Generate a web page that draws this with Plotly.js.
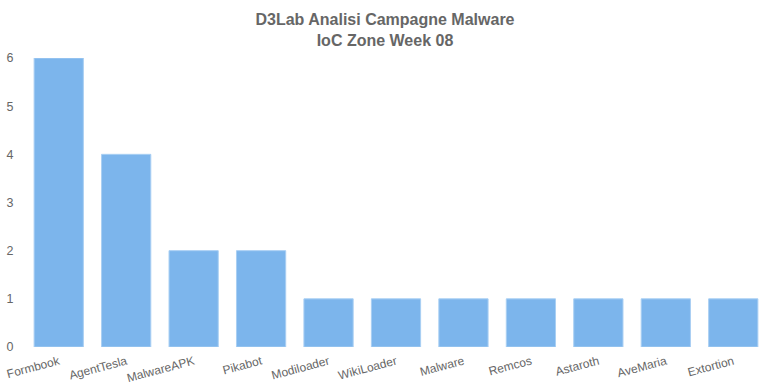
<!DOCTYPE html>
<html><head><meta charset="utf-8">
<script src="https://cdn.plot.ly/plotly-3.0.1.min.js"></script>
<style>html,body{margin:0;padding:0;background:#fff}#chart{width:770px;height:385px}</style>
</head><body><div id="chart"></div>
<script>
const categories = ["Formbook","AgentTesla","MalwareAPK","Pikabot","Modiloader","WikiLoader","Malware","Remcos","Astaroth","AveMaria","Extortion"];
const counts = [6,4,2,2,1,1,1,1,1,1,1];
const yTicks = [0,1,2,3,4,5,6];

Plotly.newPlot('chart', [{
  type: 'bar',
  x: categories,
  y: counts,
  marker: {color: '#7cb5ec', line: {color: '#a9cff3', width: 1}},
  hoverinfo: 'x+y'
}], {
  width: 770, height: 385,
  margin: {l: 25, r: 3, t: 58, b: 38},
  title: {text: '<b>D3Lab Analisi Campagne Malware<br>IoC Zone Week 08</b>', x: 0.5, xanchor: 'center', yref: 'container', y: 1 - 25/385, yanchor: 'middle',
          font: {family: 'Liberation Sans, Arial, sans-serif', size: 16, color: '#666666'}},
  font: {family: 'Liberation Sans, Arial, sans-serif', size: 12, color: '#666666'},
  bargap: 0.27,
  showlegend: false,
  paper_bgcolor: '#ffffff', plot_bgcolor: '#ffffff',
  xaxis: {tickangle: -15, automargin: false, showgrid: false, zeroline: false, showline: false, ticks: 'outside', ticklen: 2, tickcolor: '#ffffff', tickfont: {size: 12, color: '#666666'}},
  yaxis: {range: [0, 6], tickvals: yTicks, showgrid: false, zeroline: false, showline: false, ticks: 'outside', ticklen: 8, tickcolor: '#ffffff', tickfont: {size: 12.5, color: '#666666'}}
}, {displayModeBar: false, staticPlot: true});
</script></body></html>
